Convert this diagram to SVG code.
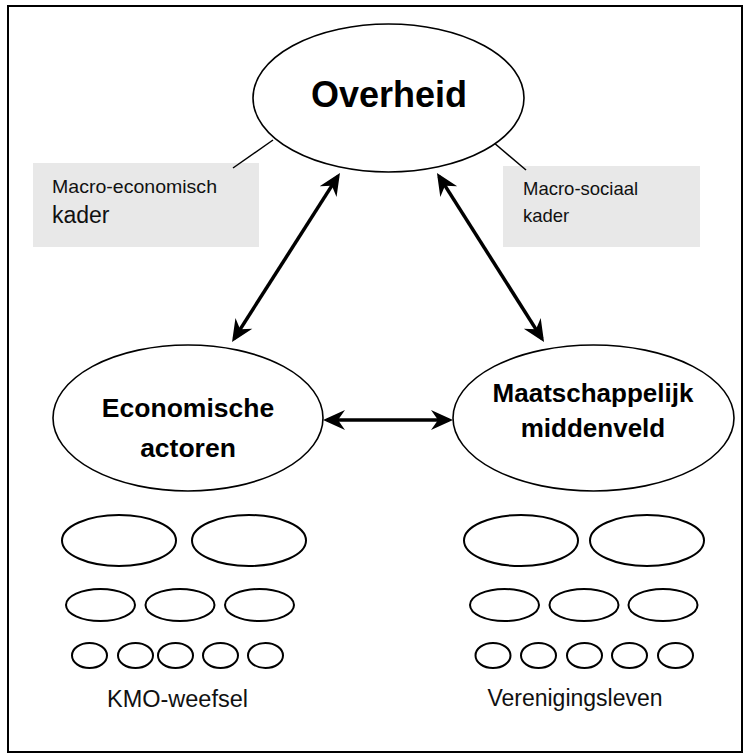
<svg xmlns="http://www.w3.org/2000/svg" width="744" height="754" viewBox="0 0 744 754">
<style>
.node{fill:#fff;stroke:#000;stroke-width:1.6}
.small{fill:#fff;stroke:#000;stroke-width:2}
.big{font-family:"Liberation Sans",Arial,sans-serif;font-weight:bold;fill:#000;text-anchor:middle}
.lbl{font-family:"Liberation Sans",Arial,sans-serif;fill:#111}
.box{fill:#e8e8e8}
.arr{stroke:#000;stroke-width:3.5;fill:none;marker-start:url(#ah);marker-end:url(#ah)}
.thin{stroke:#000;stroke-width:1.5}
</style>
<defs>
<marker id="ah" markerUnits="userSpaceOnUse" markerWidth="30" markerHeight="30" refX="0" refY="0" orient="auto-start-reverse" overflow="visible">
<path d="M4,0 L-18,-10 L-11,0 L-18,10 Z" fill="#000"/>
</marker>
</defs>
<rect x="8" y="6" width="734" height="746" fill="none" stroke="#000" stroke-width="2"/>

<g id="box-macro-economisch">
<rect class="box" x="33" y="163" width="226" height="84"/>
<text class="lbl" x="52" y="193" font-size="18.5" textLength="165" lengthAdjust="spacingAndGlyphs">Macro-economisch</text>
<text class="lbl" x="52" y="223" font-size="23">kader</text>
</g>
<g id="box-macro-sociaal">
<rect class="box" x="503" y="166" width="197" height="81"/>
<text class="lbl" x="523" y="195" font-size="18.5">Macro-sociaal</text>
<text class="lbl" x="523" y="222" font-size="18.5">kader</text>
</g>

<g id="connectors">
<line class="thin" x1="273" y1="140" x2="233" y2="168"/>
<line class="thin" x1="493" y1="142" x2="526" y2="170"/>
<line class="arr" x1="337.8" y1="176.4" x2="234.2" y2="338.6"/>
<line class="arr" x1="439.1" y1="176.4" x2="541.9" y2="338.6"/>
<line class="arr" x1="327" y1="420" x2="449" y2="420"/>
</g>

<g id="overheid">
<ellipse class="node" cx="388.5" cy="98" rx="135.5" ry="74"/>
<text class="big" x="389" y="107" font-size="36">Overheid</text>
</g>
<g id="economische-actoren">
<ellipse class="node" cx="188" cy="418" rx="135" ry="73"/>
<text class="big" x="188" y="417" font-size="26.5">Economische</text>
<text class="big" x="188" y="457" font-size="26.5">actoren</text>
</g>
<g id="maatschappelijk-middenveld">
<ellipse class="node" cx="593.5" cy="418" rx="140.5" ry="73"/>
<text class="big" x="593" y="402" font-size="26">Maatschappelijk</text>
<text class="big" x="593" y="437" font-size="26">middenveld</text>
</g>

<g id="kmo-weefsel">
<ellipse class="small" cx="119" cy="540.5" rx="57" ry="25.5"/>
<ellipse class="small" cx="249" cy="540.5" rx="57" ry="25.5"/>
<ellipse class="small" cx="100.5" cy="605" rx="34.5" ry="16"/>
<ellipse class="small" cx="180" cy="605" rx="34.5" ry="16"/>
<ellipse class="small" cx="259.5" cy="605" rx="34.5" ry="16"/>
<ellipse class="small" cx="89.5" cy="655.5" rx="17.5" ry="12.5"/>
<ellipse class="small" cx="135.5" cy="655.5" rx="17.5" ry="12.5"/>
<ellipse class="small" cx="175.5" cy="655.5" rx="17.5" ry="12.5"/>
<ellipse class="small" cx="220.5" cy="655.5" rx="17.5" ry="12.5"/>
<ellipse class="small" cx="265.5" cy="655.5" rx="17.5" ry="12.5"/>
<text class="lbl" x="177.5" y="707" font-size="23.5" text-anchor="middle">KMO-weefsel</text>
</g>
<g id="verenigingsleven">
<ellipse class="small" cx="521" cy="540.5" rx="57" ry="25.5"/>
<ellipse class="small" cx="647" cy="540.5" rx="57" ry="25.5"/>
<ellipse class="small" cx="504.5" cy="605" rx="34.5" ry="16"/>
<ellipse class="small" cx="584" cy="605" rx="34.5" ry="16"/>
<ellipse class="small" cx="663" cy="605" rx="34.5" ry="16"/>
<ellipse class="small" cx="493" cy="655.5" rx="17.5" ry="12.5"/>
<ellipse class="small" cx="538.5" cy="655.5" rx="17.5" ry="12.5"/>
<ellipse class="small" cx="584.5" cy="655.5" rx="17.5" ry="12.5"/>
<ellipse class="small" cx="629.5" cy="655.5" rx="17.5" ry="12.5"/>
<ellipse class="small" cx="675.5" cy="655.5" rx="17.5" ry="12.5"/>
<text class="lbl" x="575" y="706" font-size="23" text-anchor="middle">Verenigingsleven</text>
</g>
</svg>
